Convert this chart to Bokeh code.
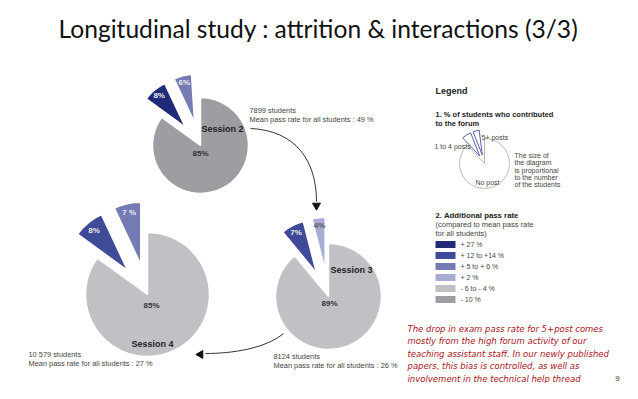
import numpy as np
from bokeh.plotting import figure
from bokeh.models import Range1d
from bokeh.embed import file_html
from bokeh.resources import INLINE
from bokeh.core.properties import value

# ---------------- data ----------------
title = "Longitudinal study : attrition & interactions (3/3)"
session_names = ["Session 2", "Session 3", "Session 4"]
student_counts = ["7899 students", "8124 students", "10 579 students"]
mean_pass_texts = ["Mean pass rate for all students : 49 %",
                   "Mean pass rate for all students  : 26 %",
                   "Mean pass rate for all students : 27 %"]
s2_shares = [85, 8, 6]
s3_shares = [89, 7, 4]
s4_shares = [85, 8, 7]
s2_labels = ["85%", "8%", "6%"]
s3_labels = ["89%", "7%", "4%"]
s4_labels = ["85%", "8%", "7 %"]
s2_classes = ["- 10 %", "+ 27 %", "+ 5 to + 6 %"]
s3_classes = ["- 6 to - 4 %", "+ 12 to +14 %", "+ 2 %"]
s4_classes = ["- 6 to - 4 %", "+ 12 to +14 %", "+ 5 to + 6 %"]
rate_classes = ["+ 27 %", "+ 12 to +14 %", "+ 5 to + 6 %", "+ 2 %", "- 6 to - 4 %", "- 10 %"]
rate_colors = ["#1f2a78", "#3f4b98", "#737ab4", "#a8abd2", "#c0c0c5", "#9d9da2"]
legend_pie_shares = [88, 6, 4]
legend_pie_labels = ["No post", "1 to 4 posts", "5+ posts"]
note_lines = ["The drop in exam pass rate for 5+post comes",
              "mostly from the high forum activity of our",
              "teaching assistant staff. In our newly published",
              "papers, this bias is controlled, as well as",
              "involvement in the technical help thread"]
page_number = "9"

# ---------------- layout ----------------
H = 399
def Y(py):
    return H - py

SANS = value("Liberation Sans")
p = figure(width=622, height=383, x_range=Range1d(0, 622), y_range=Range1d(16, 399),
           output_backend="svg", toolbar_location=None, min_border=0,
           x_axis_location=None, y_axis_location=None)
p.xgrid.visible = False
p.ygrid.visible = False
p.outline_line_color = None
p.background_fill_color = "white"
p.border_fill_color = "white"

color_of = dict(zip(rate_classes, rate_colors))

def txt(x, y, s, size="7px", color="#333333", style="normal", align="left",
        baseline="middle", font=SANS):
    p.text(x=[x], y=[Y(y)], text=[s], text_font=font, text_font_size=size,
           text_color=color, text_font_style=style, text_align=align,
           text_baseline=baseline)

def draw_pie(cx, cy, r, shares, labels, classes, big_label_off, explode=0.5):
    start = np.pi / 2
    for i, (s, lab, cl) in enumerate(zip(shares, labels, classes)):
        sweep = s / 100.0 * 2 * np.pi
        a0, a1 = start, start - sweep
        mid = (a0 + a1) / 2
        off = 0 if i == 0 else explode * r
        ox = cx + off * np.cos(mid)
        oy = Y(cy) + off * np.sin(mid)
        p.wedge(x=ox, y=oy, radius=r, start_angle=a1, end_angle=a0,
                direction="anticlock", fill_color=color_of[cl],
                line_color="white", line_width=1.5)
        if i == 0:
            lx, ly = cx + big_label_off[0], cy + big_label_off[1]
            col = "#333333"
        else:
            lx = ox + 0.85 * r * np.cos(mid)
            ly = H - (oy + 0.85 * r * np.sin(mid))
            col = "#555566" if cl == "+ 2 %" else "#eeeeee"
        txt(lx, ly, lab, size="8px", color=col, style="bold", align="center")
        start = a1

# pies: (cx, cy, r)
pies = [(200, 145, 48), (328, 296, 53), (147, 294, 62)]
shares_all = [s2_shares, s3_shares, s4_shares]
labels_all = [s2_labels, s3_labels, s4_labels]
classes_all = [s2_classes, s3_classes, s4_classes]
big_offs = [(0, 8), (1, 7), (4, 11)]
name_pos = [(222, 128), (351, 269), (152, 343)]
info_pos = [(249, 110), (273, 356), (28, 354)]

for k in range(3):
    cx, cy, r = pies[k]
    draw_pie(cx, cy, r, shares_all[k], labels_all[k], classes_all[k], big_offs[k])
    nx, ny = name_pos[k]
    txt(nx, ny, session_names[k], size="9px", color="#222222", style="bold", align="center")
    ix, iy = info_pos[k]
    txt(ix, iy, student_counts[k], size="7.4px", color="#444444")
    txt(ix, iy + 8.5, mean_pass_texts[k], size="7.4px", color="#444444")

# arrows
p.bezier(x0=[250, 283], y0=[Y(128), Y(333)], x1=[316, 205], y1=[Y(201), Y(353)],
         cx0=[295, 265], cy0=[Y(130), Y(348)], cx1=[316, 232], cy1=[Y(160), Y(353)],
         line_color="#333333", line_width=1)
p.scatter(x=[316, 200], y=[Y(205), Y(354)], marker="triangle", size=8,
          angle=[np.pi, np.pi / 2], fill_color="#111111", line_color="#111111")

# title
txt(58, 28, title, size="24.6px", color="#111111", baseline="alphabetic", font=value("Lato"))

# legend
txt(435, 90, "Legend", size="9px", color="#222222", style="bold")
txt(435, 114, "1. % of students who contributed", size="7.5px", color="#222222", style="bold")
txt(435, 123, "to the forum", size="7.5px", color="#222222", style="bold")

lcx, lcy, lr = 484, 163, 25
start = np.pi / 2
for i, s in enumerate(legend_pie_shares):
    sweep = s / 100.0 * 2 * np.pi
    a0, a1 = start, start - sweep
    mid = (a0 + a1) / 2
    off = 0 if i == 0 else 0.35 * lr
    p.wedge(x=lcx + off * np.cos(mid), y=Y(lcy) + off * np.sin(mid), radius=lr,
            start_angle=a1, end_angle=a0, direction="anticlock",
            fill_color="white", line_color="#bbbbbb" if i == 0 else "#5a64a8",
            line_width=1)
    start = a1
txt(487, 182, legend_pie_labels[0], size="7px", color="#444444", align="center")
txt(434, 146, legend_pie_labels[1], size="7px", color="#444444")
txt(481, 137, legend_pie_labels[2], size="7px", color="#444444")
for j, s in enumerate(["The size of", "the diagram", "is proportional",
                       "to the number", "of the students"]):
    txt(514, 155 + j * 7.3, s, size="7px", color="#444444")

txt(435, 215, "2. Additional pass rate", size="7.8px", color="#222222", style="bold")
txt(435, 224, "(compared to mean pass rate", size="7.5px", color="#444444")
txt(435, 233, "for all students)", size="7.5px", color="#444444")
sw_y = [Y(244 + 11 * i) for i in range(len(rate_classes))]
p.rect(x=[445] * len(rate_classes), y=sw_y, width=20, height=7,
       fill_color=rate_colors, line_color=None)
p.text(x=[460] * len(rate_classes), y=sw_y, text=rate_classes, text_font=SANS,
       text_font_size="7px", text_color="#444444", text_baseline="middle")

# note (kept inside the drawable area)
for j, line in enumerate(note_lines):
    txt(407, 328 + j * 12.5, line, size="8.5px", color="#a8141c", style="italic",
        font=value("DejaVu Sans"))
txt(617, 378, page_number, size="8px", color="#444444", align="center")

open("out.html", "w").write(file_html(p, INLINE))
